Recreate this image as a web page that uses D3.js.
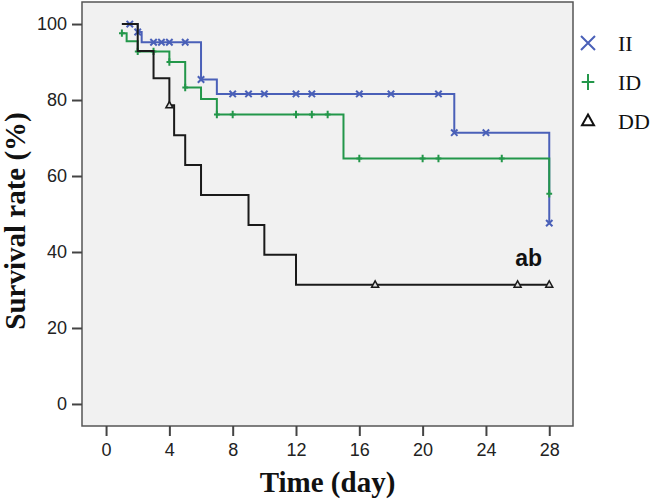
<!DOCTYPE html>
<html><head><meta charset="utf-8">
<script src="https://cdn.jsdelivr.net/npm/d3@7"></script>
<style>html,body{margin:0;padding:0;background:#fff;}</style>
</head><body>
<svg id="c" width="653" height="500"></svg>
<script>
// ---- data ----
const groups = ["II", "ID", "DD"];
const iiTimes = [1, 2, 2.25, 6, 7, 22, 28];
const iiSurvival = [100, 97.9, 95.2, 85.4, 81.6, 71.4, 47.6];
const iiCensored = [1.5, 2, 3, 3.5, 4, 5, 6, 8, 9, 10, 12, 13, 16, 18, 21, 22, 24, 28];
const idTimes = [1, 1.3, 2, 4, 5, 6, 7, 15, 28];
const idSurvival = [97.6, 95.5, 92.8, 90.0, 83.3, 80.3, 76.2, 64.6, 55.3];
const idCensored = [1, 2, 3, 4, 5, 7, 8, 12, 13, 14, 16, 20, 21, 25, 28];
const ddTimes = [1, 2, 3, 4, 4.3, 5, 6, 9, 10, 12, 28];
const ddSurvival = [100, 92.9, 85.7, 78.6, 70.7, 62.9, 55.0, 47.1, 39.3, 31.4, 31.4];
const ddCensored = [4, 17, 26, 28];
const xTicks = [0, 4, 8, 12, 16, 20, 24, 28];
const yTicks = [0, 20, 40, 60, 80, 100];
const xTitle = "Time (day)";
const yTitle = "Survival rate (%)";
const annotation = "ab";

const svg = d3.select("#c");
const L = 82, R = 573, T = 2, B = 426;
const x = d3.scaleLinear().domain([-1.52, 29.5]).range([L, R]);
const y = d3.scaleLinear().domain([-5.8, 105.8]).range([B, T]);

svg.append("rect").attr("x", L).attr("y", T).attr("width", R - L).attr("height", B - T)
  .attr("fill", "#f1f1f1").attr("stroke", "#555").attr("stroke-width", 1.5);

const yAx = svg.append("g").attr("transform", `translate(${L},0)`)
  .call(d3.axisLeft(y).tickValues(yTicks).tickSize(10).tickPadding(5));
const xAx = svg.append("g").attr("transform", `translate(0,${B})`)
  .call(d3.axisBottom(x).tickValues(xTicks).tickSize(10).tickPadding(7));
[xAx, yAx].forEach(g => {
  g.select(".domain").remove();
  g.selectAll("line").attr("stroke", "#444").attr("stroke-width", 2);
  g.selectAll("text").attr("font-family", "Liberation Sans, Arial, sans-serif")
    .attr("font-size", 18).attr("fill", "#222");
});

const colors = {II: "#4a60b8", ID: "#23974a", DD: "#1a1a1a"};
const data = {
  II: {t: iiTimes, s: iiSurvival, c: iiCensored},
  ID: {t: idTimes, s: idSurvival, c: idCensored},
  DD: {t: ddTimes, s: ddSurvival, c: ddCensored}
};
const line = d3.line().x(d => x(d[0])).y(d => y(d[1])).curve(d3.curveStepAfter);
function levelAt(g, t) {
  let v = g.s[0];
  g.t.forEach((tt, i) => { if (tt <= t) v = g.s[i]; });
  return v;
}
function markPath(type, r) {
  if (type === "II") return `M${-r},${-r}L${r},${r}M${-r},${r}L${r},${-r}`;
  if (type === "ID") return `M0,${-r * 1.15}L0,${r * 1.15}M${-r * 0.9},0L${r * 0.9},0`;
  const h = r * 1.8;
  return `M0,${-h * 0.6}L${r},${h * 0.4}L${-r},${h * 0.4}Z`;
}
groups.forEach(k => {
  const g = data[k];
  const pts = g.t.map((t, i) => [t, g.s[i]]);
  svg.append("path").attr("d", line(pts)).attr("fill", "none")
    .attr("stroke", colors[k]).attr("stroke-width", 2);
  svg.append("g").selectAll("path").data(g.c).join("path")
    .attr("transform", t => `translate(${x(t)},${y(levelAt(g, t))})`)
    .attr("d", markPath(k, k === "DD" ? 3.5 : 3.2))
    .attr("fill", k === "DD" ? "#ddd" : "none")
    .attr("stroke", colors[k]).attr("stroke-width", k === "DD" ? 1.5 : 2);
});

// legend
const legY = [43, 82, 121];
groups.forEach((k, i) => {
  svg.append("path").attr("transform", `translate(588,${legY[i]})`)
    .attr("d", markPath(k, k === "DD" ? 6 : 7))
    .attr("fill", "none").attr("stroke", k === "DD" ? "#111" : colors[k])
    .attr("stroke-width", 2);
  svg.append("text").attr("x", 618).attr("y", legY[i] + 7.5)
    .attr("font-family", "Liberation Serif, Times New Roman, serif")
    .attr("font-size", 22).attr("fill", "#111").text(k);
});

svg.append("text").attr("x", x(26.7)).attr("y", 266).attr("text-anchor", "middle")
  .attr("font-family", "Liberation Sans, Arial, sans-serif").attr("font-weight", "bold")
  .attr("font-size", 23).attr("fill", "#111").text(annotation);

svg.append("text").attr("x", (L + R) / 2).attr("y", 492).attr("text-anchor", "middle")
  .attr("font-family", "Liberation Serif, Times New Roman, serif").attr("font-weight", "bold")
  .attr("font-size", 29).attr("fill", "#111").text(xTitle);
svg.append("text").attr("transform", "translate(25,221) rotate(-90)").attr("text-anchor", "middle")
  .attr("font-family", "Liberation Serif, Times New Roman, serif").attr("font-weight", "bold")
  .attr("font-size", 29).attr("fill", "#111").text(yTitle);
</script>
</body></html>
